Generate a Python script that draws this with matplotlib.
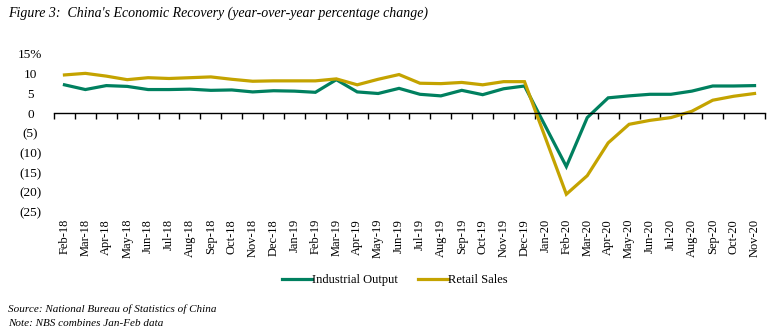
import numpy as np
import matplotlib
matplotlib.use("Agg")
import matplotlib.pyplot as plt
from matplotlib.ticker import FixedLocator, FuncFormatter

plt.rcParams["font.family"] = ["Liberation Serif", "DejaVu Serif"]

# monthly labels (Jan-Feb are reported combined by NBS, Jan-20 left blank)
months = ["Feb-18", "Mar-18", "Apr-18", "May-18", "Jun-18", "Jul-18", "Aug-18",
          "Sep-18", "Oct-18", "Nov-18", "Dec-18", "Jan-19", "Feb-19", "Mar-19",
          "Apr-19", "May-19", "Jun-19", "Jul-19", "Aug-19", "Sep-19", "Oct-19",
          "Nov-19", "Dec-19", "Jan-20", "Feb-20", "Mar-20", "Apr-20", "May-20",
          "Jun-20", "Jul-20", "Aug-20", "Sep-20", "Oct-20", "Nov-20"]

industrial_output = [7.2, 6.0, 7.0, 6.8, 6.0, 6.0, 6.1, 5.8, 5.9, 5.4, 5.7,
                     5.6, 5.3, 8.5, 5.4, 5.0, 6.3, 4.8, 4.4, 5.8, 4.7, 6.2, 6.9,
                     np.nan, -13.5, -1.1, 3.9, 4.4, 4.8, 4.8, 5.6, 6.9, 6.9, 7.0]

retail_sales = [9.7, 10.1, 9.4, 8.5, 9.0, 8.8, 9.0, 9.2, 8.6, 8.1, 8.2,
                8.2, 8.2, 8.7, 7.2, 8.6, 9.8, 7.6, 7.5, 7.8, 7.2, 8.0, 8.0,
                np.nan, -20.5, -15.8, -7.5, -2.8, -1.8, -1.1, 0.5, 3.3, 4.3, 5.0]

y_ticks = [15, 10, 5, 0, -5, -10, -15, -20, -25]

green = "#00805f"
gold = "#c4a300"

W, H = 782, 332
fig = plt.figure(figsize=(W / 100, H / 100), dpi=100)
ax = fig.add_axes([54 / W, 1 - 212 / H, (765 - 54) / W, (212 - 54) / H])

x = np.arange(len(months))
for vals, col, lab in [(industrial_output, green, "Industrial Output"),
                       (retail_sales, gold, "Retail Sales")]:
    v = np.array(vals, dtype=float)
    ok = ~np.isnan(v)
    ax.plot(x[ok], v[ok], color=col, lw=2.3, label=lab, solid_joinstyle="miter")

ax.set_xlim(-0.5, len(months) - 0.5)
ax.set_ylim(-25, 15)

for s in ["top", "right", "left"]:
    ax.spines[s].set_visible(False)
ax.spines["bottom"].set_position(("data", 0))
ax.spines["bottom"].set_linewidth(1.0)

ax.set_xticks(x)
ax.set_xticklabels(months, rotation=90, fontsize=9)
ax.xaxis.set_minor_locator(FixedLocator(np.arange(len(months) + 1) - 0.5))
ax.tick_params(axis="x", which="major", length=0, pad=76)
ax.tick_params(axis="x", which="minor", length=4, width=1.0, direction="out")


def fmt(v, pos):
    if v == 15:
        return "15%"
    if v < 0:
        return "(%d)" % -v
    return "%d" % v


ax.set_yticks(y_ticks)
ax.yaxis.set_major_formatter(FuncFormatter(fmt))
ax.tick_params(axis="y", length=0, pad=17, labelsize=9.5)
for t in ax.get_yticklabels():
    t.set_horizontalalignment("center")

fig.legend(loc="center", bbox_to_anchor=(395 / W, 1 - 280 / H), ncol=2,
           frameon=False, fontsize=9, handlelength=2.4, handletextpad=0.0,
           columnspacing=1.6)

fig.text(8 / W, 1 - 13 / H,
         "Figure 3:  China's Economic Recovery (year-over-year percentage change)",
         fontsize=10, style="italic", va="center", ha="left")
fig.text(8 / W, 1 - 309 / H, "Source: National Bureau of Statistics of China",
         fontsize=8, style="italic", va="center", ha="left")
fig.text(8 / W, 1 - 324 / H, "Note: NBS combines Jan-Feb data",
         fontsize=8, style="italic", va="center", ha="left")

fig.savefig("out.png", dpi=100)
